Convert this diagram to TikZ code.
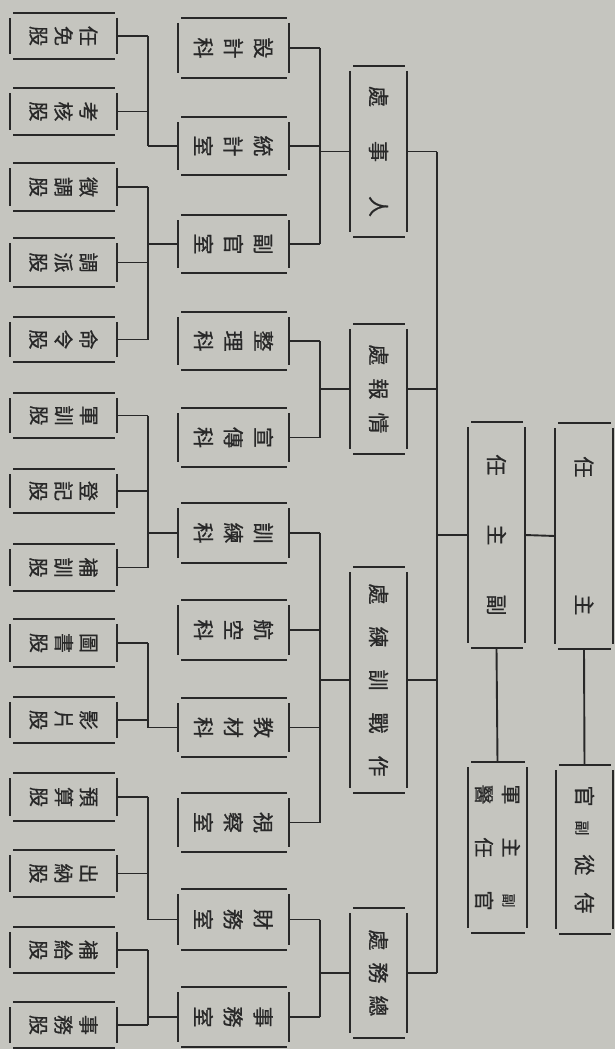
\documentclass[tikz,border=0pt]{standalone}
\usepackage{fontspec}
\newfontfamily\cjk[FakeBold=0.7]{Noto Sans CJK TC}
\usetikzlibrary{fit}
\definecolor{paper}{RGB}{197,197,191}
\definecolor{ink}{RGB}{40,40,40}
\tikzset{
  frame/.style={inner sep=0pt, outer sep=0pt},
  hl/.style={draw=ink, line width=2.8pt},
  vl/.style={draw=ink, line width=2.4pt},
  conn/.style={draw=ink, line width=1.9pt},
  lbl/.style={rotate=-90, text=ink, inner sep=0pt, align=center, font=\cjk\fontsize{20}{25}\selectfont},
  kelbl/.style={lbl, font=\cjk\fontsize{21}{30}\selectfont},
  chulbl/.style={lbl, font=\cjk\fontsize{21}{21}\selectfont},
}
\newcommand\gp[1]{\hspace{#1pt}}
\newcommand\boxsides[1]{%
  \draw[hl] ([xshift=3pt]#1.north west) -- ([xshift=-2pt]#1.north east);
  \draw[hl] ([xshift=3pt]#1.south west) -- ([xshift=-2pt]#1.south east);
  \draw[vl] ([yshift=-5pt]#1.north west) -- ([yshift=5pt]#1.south west);
  \draw[vl] ([yshift=-5pt]#1.north east) -- ([yshift=5pt]#1.south east);}
\newcommand\orgbox[7]{%
  \node[frame, fit={(#2,#3) (#4,#5)}] (#1) {};
  \node[#6] (#1-t) at (#1.center) {#7};
  \boxsides{#1}}
\newcommand\stub[2]{\draw[conn] (#1.east) -- (#1.east -| #2);}
\newcommand\up[2]{\draw[conn] (#1.west) -- (#1.west -| #2);}
\begin{document}
\begin{tikzpicture}[x=1pt, y=-1pt]
\fill[paper] (0,0) rectangle (615,1049);
\useasboundingbox (0,0) rectangle (615,1049);
\coordinate (tk) at (437,0);
\coordinate (bA) at (320,0);
\coordinate (bB) at (148,0);

% column 1
\orgbox{g1}{10}{13}{117}{59}{lbl}{任\\免\\股}
\orgbox{g2}{10}{88}{117}{135}{lbl}{考\\核\\股}
\orgbox{g3}{10}{163}{117}{211}{lbl}{徵\\調\\股}
\orgbox{g4}{10}{238}{117}{287}{lbl}{調\\派\\股}
\orgbox{g5}{10}{317}{117}{362}{lbl}{命\\令\\股}
\orgbox{g6}{10}{393}{117}{438}{lbl}{軍\\訓\\股}
\orgbox{g7}{10}{469}{117}{513}{lbl}{登\\記\\股}
\orgbox{g8}{10}{544}{117}{591}{lbl}{補\\訓\\股}
\orgbox{g9}{10}{619}{117}{667}{lbl}{圖\\書\\股}
\orgbox{g10}{10}{697}{117}{743}{lbl}{影\\片\\股}
\orgbox{g11}{10}{773}{117}{821}{lbl}{預\\算\\股}
\orgbox{g12}{10}{850}{117}{897}{lbl}{出\\納\\股}
\orgbox{g13}{10}{927}{117}{973}{lbl}{補\\給\\股}
\orgbox{g14}{10}{1002}{117}{1048}{lbl}{事\\務\\股}

% column 2
\orgbox{k1}{178}{18}{289}{78}{kelbl}{設\\計\\科}
\orgbox{k2}{178}{117}{289}{175}{kelbl}{統\\計\\室}
\orgbox{k3}{178}{215}{289}{273}{kelbl}{副\\官\\室}
\orgbox{k4}{178}{312}{289}{370}{kelbl}{整\\理\\科}
\orgbox{k5}{178}{408}{289}{467}{kelbl}{宣\\傳\\科}
\orgbox{k6}{178}{503}{289}{563}{kelbl}{訓\\練\\科}
\orgbox{k7}{178}{600}{289}{660}{kelbl}{航\\空\\科}
\orgbox{k8}{178}{698}{289}{757}{kelbl}{教\\材\\科}
\orgbox{k9}{178}{793}{289}{852}{kelbl}{視\\察\\室}
\orgbox{k10}{178}{889}{289}{950}{kelbl}{財\\務\\室}
\orgbox{k11}{178}{987}{289}{1047}{kelbl}{事\\務\\室}

% column 3
\orgbox{c1}{350}{66}{407}{237}{chulbl}{處\gp{34}事\gp{34}人}
\orgbox{c2}{350}{324}{407}{454}{chulbl}{處\gp{13}報\gp{13}情}
\orgbox{c3}{350}{567}{407}{793}{chulbl}{處\gp{22}練\gp{22}訓\gp{22}戰\gp{22}作}
\orgbox{c4}{350}{908}{407}{1038}{chulbl}{處\gp{12}務\gp{12}總}

% columns 4 and 5
\orgbox{fz}{468}{422}{525}{648}{chulbl}{任\gp{49}主\gp{49}副}
\orgbox{zr}{555}{423}{613}{649}{chulbl}{任\gp{117}主}
\orgbox{jy}{468}{762}{527}{933}{lbl, font=\cjk\fontsize{20}{27}\selectfont}{軍\gp{33}主\gp{33}\makebox[20pt]{\fontsize{14}{14}\selectfont 副}\\醫\gp{33}任\gp{33}官}
\orgbox{sc}{556}{765}{613}{934}{chulbl}{官\gp{14}{\fontsize{15}{15}\selectfont 副}\gp{19}從\gp{17}侍}

% root connectors
\draw[conn] (fz.east) -- (zr.west);
\draw[conn] (zr.south) -- (sc.north);
\draw[conn] (fz.south) -- (jy.north);
\up{fz}{tk}
\draw[conn] (c1.east -| tk) -- (c4.east -| tk);
\stub{c1}{tk} \stub{c2}{tk} \stub{c3}{tk} \stub{c4}{tk}

% division to sections
\draw[conn] (k1.east -| bA) -- (k3.east -| bA);
\stub{k1}{bA} \stub{k2}{bA} \stub{k3}{bA} \up{c1}{bA}
\draw[conn] (k4.east -| bA) -- (k5.east -| bA);
\stub{k4}{bA} \stub{k5}{bA} \up{c2}{bA}
\draw[conn] (k6.east -| bA) -- (k9.east -| bA);
\stub{k6}{bA} \stub{k7}{bA} \stub{k8}{bA} \stub{k9}{bA} \up{c3}{bA}
\draw[conn] (k10.east -| bA) -- (k11.east -| bA);
\stub{k10}{bA} \stub{k11}{bA} \up{c4}{bA}

% sections to units
\draw[conn] (g1.east -| bB) -- (k2.west -| bB);
\stub{g1}{bB} \stub{g2}{bB} \up{k2}{bB}
\draw[conn] (g3.east -| bB) -- (g5.east -| bB);
\stub{g3}{bB} \stub{g4}{bB} \stub{g5}{bB} \up{k3}{bB}
\draw[conn] (g6.east -| bB) -- (g8.east -| bB);
\stub{g6}{bB} \stub{g7}{bB} \stub{g8}{bB} \up{k6}{bB}
\draw[conn] (g9.east -| bB) -- (k8.west -| bB);
\stub{g9}{bB} \stub{g10}{bB} \up{k8}{bB}
\draw[conn] (g11.east -| bB) -- (k10.west -| bB);
\stub{g11}{bB} \stub{g12}{bB} \up{k10}{bB}
\draw[conn] (g13.east -| bB) -- (g14.east -| bB);
\stub{g13}{bB} \stub{g14}{bB} \up{k11}{bB}
\end{tikzpicture}
\end{document}
